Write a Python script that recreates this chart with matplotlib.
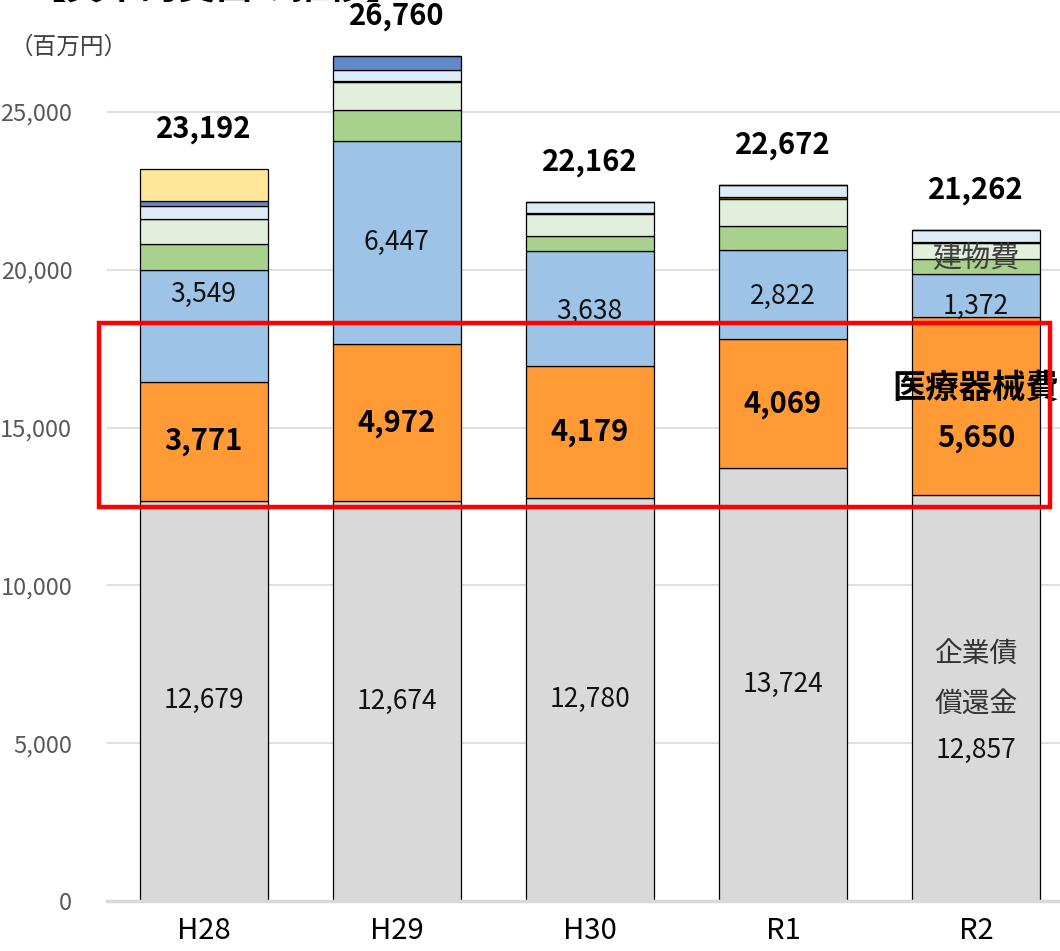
import matplotlib
matplotlib.use("Agg")
import matplotlib.pyplot as plt
from matplotlib.patches import Rectangle
import numpy as np

plt.rcParams['font.family'] = ['Noto Sans CJK JP', 'DejaVu Sans']

years = ["H28", "H29", "H30", "R1", "R2"]

# capital expenditure by item (million yen), stacked bottom to top
bond_redemption = [12679, 12674, 12780, 13724, 12857]   # 企業債償還金
medical_equipment = [3771, 4972, 4179, 4069, 5650]     # 医療器械費
blue_item = [3549, 6447, 3638, 2822, 1372]
building = [830, 965, 466, 780, 470]                   # 建物費
light_green_item = [790, 905, 715, 860, 500]
olive_item = [0, 20, 16, 40, 20]
light_blue_item = [390, 362, 368, 377, 393]
dark_blue_item = [160, 415, 0, 0, 0]
yellow_item = [1023, 0, 0, 0, 0]
totals = [23192, 26760, 22162, 22672, 21262]

series = [
    (bond_redemption, "#D9D9D9"),
    (medical_equipment, "#FF9A35"),
    (blue_item, "#9DC3E6"),
    (building, "#A9D18E"),
    (light_green_item, "#E2EFDA"),
    (olive_item, "#7F6000"),
    (light_blue_item, "#DDEBF7"),
    (dark_blue_item, "#608AC9"),
    (yellow_item, "#FFE699"),
]

fig = plt.figure(figsize=(10.60, 9.51), dpi=100)
ax = fig.add_axes([107 / 1060, 50 / 951, 1 - 107 / 1060, 883.7 / 951])

x = np.arange(len(years))
width = 0.663
bottom = np.zeros(len(years))
for vals, color in series:
    v = np.array(vals, dtype=float)
    ax.bar(x, v, width, bottom=bottom, color=color, edgecolor="black",
           linewidth=0.9, zorder=3)
    bottom += v

ax.set_xlim(-0.5, 4.435)
ax.set_ylim(0, 28000)
ax.set_yticks(np.arange(0, 25001, 5000))
ax.set_yticklabels([f"{t:,}" for t in range(0, 25001, 5000)])
ax.set_xticks(x)
ax.set_xticklabels(years)
ax.tick_params(axis="y", length=0, pad=25, labelsize=17, labelcolor="#595959")
ax.tick_params(axis="x", length=0, pad=11, labelsize=21, labelcolor="black")
ax.grid(axis="y", color="#D9D9D9", linewidth=1.2, zorder=0)
for s in ["top", "right", "left"]:
    ax.spines[s].set_visible(False)
ax.spines["bottom"].set_color("#D9D9D9")
ax.spines["bottom"].set_linewidth(2.5)
ax.spines["bottom"].set_zorder(4)


def put(xv, yv, s, dy=0, **kw):
    ax.annotate(s, (xv, yv), xytext=(0, dy), textcoords="offset pixels",
                ha="center", va="center", zorder=5, annotation_clip=False, **kw)


# segment labels
for i in range(len(years)):
    g = bond_redemption[i]
    if years[i] == "R2":
        put(x[i], g / 2, "企業債", dy=43, fontsize=20, color="#333333")
        put(x[i], g / 2, "償還金", dy=-7, fontsize=20, color="#333333")
        put(x[i], g / 2, f"{g:,}", dy=-52, fontsize=19, color="#111111")
    else:
        put(x[i], g / 2, f"{g:,}", fontsize=19, color="#111111")
    m = medical_equipment[i]
    mc = g + m / 2
    if years[i] == "R2":
        put(x[i], mc, "医療器械費", dy=18, fontsize=24, fontweight="bold")
        put(x[i], mc, f"{m:,}", dy=-32, fontsize=21, fontweight="bold")
    else:
        put(x[i], mc, f"{m:,}", fontsize=21, fontweight="bold")
    b = blue_item[i]
    bc = g + m + b / 2
    offs = {0: 31, 2: -3, 3: -2, 4: -11}.get(i, 0)
    put(x[i], bc, f"{b:,}", dy=offs, fontsize=19, color="#111111")
    put(x[i], totals[i], f"{totals[i]:,}", dy=40, fontsize=21, fontweight="bold")

# building cost label on the last bar
r2_base = bond_redemption[4] + medical_equipment[4] + blue_item[4]
put(x[4], r2_base + building[4], "建物費", dy=0, fontsize=21, color="#404040")

# highlight box around the medical equipment segment
ax.add_patch(Rectangle((-0.539, 12484), 4.383 + 0.539, 18314 - 12484,
                       fill=False, edgecolor="#FF0000", linewidth=3.2,
                       zorder=6, clip_on=False))

fig.text(10 / 1060, 1 - 47 / 951, "（百万円）", ha="left", va="center",
         fontsize=17, color="#404040")
fig.text(28 / 1060, 1 - (-13) / 951, "【資本的支出の推移】", ha="left", va="center",
         fontsize=27, fontweight="bold", zorder=0)

fig.savefig("out.png", dpi=100)
